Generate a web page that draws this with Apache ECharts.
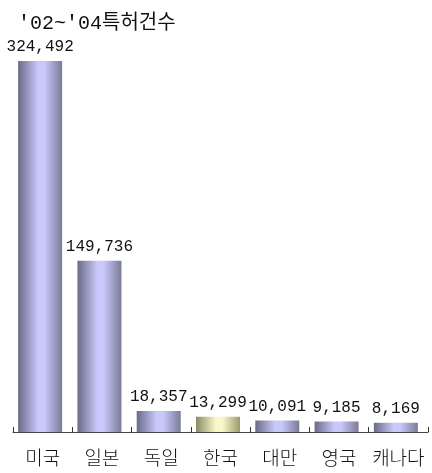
<!DOCTYPE html>
<html>
<head>
<meta charset="utf-8">
<script src="https://cdn.jsdelivr.net/npm/echarts@6/dist/echarts.min.js"></script>
<style>
  html, body { margin: 0; padding: 0; background: #fff; }
  #chart { width: 432px; height: 473px; }
</style>
</head>
<body>
<div id="chart"></div>
<script>
// Patent counts by country, 2002–2004
const titleText = "'02~'04특허건수";
const countries = ['미국', '일본', '독일', '한국', '대만', '영국', '캐나다'];
const patentCounts = [324492, 149736, 18357, 13299, 10091, 9185, 8169];
const highlightCountry = '한국';

function cylinder(dark1, light, dark2) {
  return new echarts.graphic.LinearGradient(0, 0, 1, 0, [
    { offset: 0, color: dark1 },
    { offset: 0.45, color: light },
    { offset: 0.6, color: light },
    { offset: 1, color: dark2 }
  ]);
}
const blueFill = cylinder('#6a6a88', '#c8c8fa', '#7a7a98');
const yellowFill = cylinder('#8a8a66', '#f8f8c8', '#9a9a72');

const numFont = "'Liberation Mono', 'DejaVu Sans Mono', monospace";
const korFont = "'Noto Sans CJK KR', sans-serif";

const chart = echarts.init(document.getElementById('chart'), null, { renderer: 'canvas' });
chart.setOption({
  animation: false,
  title: {
    text: titleText,
    left: 13,
    top: 9,
    textStyle: {
      fontFamily: numFont + ", " + korFont,
      fontSize: 20,
      fontWeight: 'normal',
      color: '#111'
    }
  },
  // grid 0 carries the visible category axis; grid 1 holds the bars,
  // sitting a little left of the category centres
  grid: [
    { left: 13, right: 4, top: 61, bottom: 41 },
    { left: 10.5, right: 6.5, top: 61, bottom: 41 }
  ],
  xAxis: [{
    type: 'category',
    gridIndex: 0,
    data: countries,
    axisLine: { lineStyle: { color: '#444', width: 1 } },
    axisTick: { show: true, inside: true, length: 5, interval: 0, lineStyle: { color: '#333', width: 1 } },
    axisLabel: {
      interval: 0,
      margin: 16,
      fontFamily: korFont,
      fontSize: 19,
      fontWeight: 300,
      color: '#111'
    }
  }, {
    type: 'category',
    gridIndex: 1,
    data: countries,
    show: false
  }],
  yAxis: [{
    type: 'value', gridIndex: 0, min: 0, max: 'dataMax', show: false, splitLine: { show: false }
  }, {
    type: 'value', gridIndex: 1, min: 0, max: 'dataMax', show: false, splitLine: { show: false }
  }],
  series: [{
    type: 'bar',
    xAxisIndex: 1,
    yAxisIndex: 1,
    barWidth: 44,
    data: patentCounts.map((v, i) => ({
      value: v,
      itemStyle: { color: countries[i] === highlightCountry ? yellowFill : blueFill }
    })),
    label: {
      show: true,
      position: 'top',
      distance: 6,
      fontFamily: numFont,
      fontSize: 16,
      color: '#111',
      formatter: p => p.value.toLocaleString('en-US')
    }
  }]
});
</script>
</body>
</html>
